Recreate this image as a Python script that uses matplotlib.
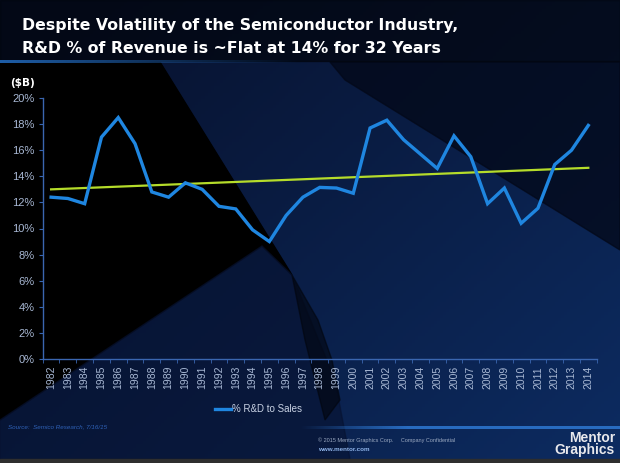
import numpy as np
import matplotlib
matplotlib.use("Agg")
import matplotlib.pyplot as plt
from matplotlib.patches import Polygon

# data
years = list(range(1982, 2015))
rd_pct = [12.4, 12.3, 11.9, 17.0, 18.5, 16.5, 12.8, 12.4, 13.5, 13.0,
          11.7, 11.5, 9.9, 9.0, 11.0, 12.4, 13.15, 13.1, 12.7, 17.7,
          18.3, 16.8, 15.7, 14.6, 17.1, 15.5, 11.9, 13.1, 10.4, 11.55,
          14.9, 16.0, 17.9]
trend_years = [1982, 2014]
trend_pct = [13.0, 14.65]
ytick_vals = [0, 2, 4, 6, 8, 10, 12, 14, 16, 18, 20]

W, H = 620, 463
fig = plt.figure(figsize=(6.2, 4.63), dpi=100)
fig.patch.set_facecolor("#050a18")

# background
bg = fig.add_axes([0, 0, 1, 1])
bg.axis("off")
xx, yy = np.meshgrid(np.linspace(0, 1, 200), np.linspace(0, 1, 150))
t = np.clip(xx * 0.6 + yy * 0.5 - 0.1, 0, 1)
c0 = np.array([0.03, 0.07, 0.18])
c1 = np.array([0.05, 0.17, 0.38])
img = c0 + (c1 - c0) * t[..., None]
bg.imshow(img, extent=[0, W, H, 0], aspect="auto", zorder=0)
# black wedge on the left
bg.add_patch(Polygon([(0, 62), (160, 62), (292, 275), (262, 246), (30, 400), (0, 420)],
                     closed=True, color="#000000", zorder=1))
# lower left navy under the wedge
bg.add_patch(Polygon([(262, 246), (30, 400), (0, 420), (0, 459), (350, 459), (335, 380),
                      (292, 275)],
                     closed=True, color="#071230", alpha=0.6, zorder=1))
# dark band upper right
bg.add_patch(Polygon([(330, 62), (620, 62), (620, 250), (345, 80)],
                     closed=True, color="#030818", alpha=0.75, zorder=1))
# dark tail in middle
bg.add_patch(Polygon([(292, 275), (318, 320), (332, 360), (340, 400), (325, 420), (305, 340)],
                     closed=True, color="#02050d", alpha=0.6, zorder=1))
# title strip
bg.add_patch(Polygon([(0, 0), (W, 0), (W, 61), (0, 61)], closed=True,
                     color="#02050d", alpha=0.7, zorder=1))
# blue rules with fading ends
fade = np.zeros((1, 300, 4))
fade[..., :3] = [0.12, 0.37, 0.66]
fade[..., 3] = np.linspace(1, 0, 300)
bg.imshow(fade, extent=[0, 300, 63.5, 60.5], aspect="auto", zorder=2)
fade2 = np.zeros((1, 320, 4))
fade2[..., :3] = [0.16, 0.42, 0.75]
fade2[..., 3] = np.clip(np.linspace(0, 3, 320), 0, 1)
bg.imshow(fade2, extent=[300, 620, 429.5, 426.5], aspect="auto", zorder=2)
bg.add_patch(Polygon([(0, 459), (W, 459), (W, H), (0, H)], closed=True,
                     color="#2e2e2e", zorder=2))
bg.set_xlim(0, W)
bg.set_ylim(H, 0)

# title
title_font = dict(color="white", fontsize=11.3, fontweight="bold",
                  family="DejaVu Sans", va="baseline")
fig.text(22 / W, 1 - 30 / H, "Despite Volatility of the Semiconductor Industry,", **title_font)
fig.text(22 / W, 1 - 53 / H, "R&D % of Revenue is ~Flat at 14% for 32 Years", **title_font)
fig.text(10 / W, 1 - 86 / H, "($B)", color="white", fontsize=7.5, fontweight="bold",
         family="DejaVu Sans")

# chart
ax = fig.add_axes([42.7 / W, 1 - 359 / H, (596.7 - 42.7) / W, (359 - 98) / H])
ax.patch.set_alpha(0)
x = np.arange(len(years))
trend_x = [years.index(y) for y in trend_years]
ax.plot(trend_x, trend_pct, color="#b5dc2a", lw=1.6, zorder=3)
ax.plot(x, rd_pct, color="#1f86e0", lw=2.4, zorder=4, label="% R&D to Sales",
        solid_joinstyle="miter")
ax.set_xlim(-0.5, len(years) - 0.5)
ax.set_ylim(0, 20)
ax.set_yticks(ytick_vals)
ax.set_yticklabels([f"{v}%" for v in ytick_vals])
ax.set_xticks(x)
ax.set_xticklabels([str(y) for y in years], rotation=90)
ax.set_xticks(np.arange(-0.5, len(years)), minor=True)
ax.tick_params(axis="x", which="major", length=0, pad=5, labelsize=7.5, colors="#a8b8d4")
ax.tick_params(axis="x", which="minor", length=3, color="#3a66b0", direction="out")
ax.tick_params(axis="y", length=3, color="#3a66b0", labelsize=8, colors="#a8b8d4", pad=3)
for lab in ax.get_xticklabels() + ax.get_yticklabels():
    lab.set_family("Liberation Sans")
for side in ["top", "right"]:
    ax.spines[side].set_visible(False)
for side in ["left", "bottom"]:
    ax.spines[side].set_color("#3a66b0")
    ax.spines[side].set_linewidth(1)

leg = ax.legend(loc="upper center", bbox_to_anchor=(0.39, -0.14), frameon=False,
                handlelength=1.6, handletextpad=0.1,
                prop={"family": "Liberation Sans", "size": 7})
for txt in leg.get_texts():
    txt.set_color("#c8d2e4")

fig.text(8 / W, 1 - 428 / H, "Source:  Semico Research, 7/16/15", color="#2f62b8",
         fontsize=4.5, style="italic", family="Liberation Sans")
fig.text(318 / W, 1 - 442 / H, "\u00a9 2015 Mentor Graphics Corp.     Company Confidential",
         color="#9aa8c0", fontsize=4.0, family="Liberation Sans")
fig.text(318 / W, 1 - 451 / H, "www.mentor.com", color="#8fb4ea", fontsize=4.5,
         fontweight="bold", family="Liberation Sans")
fig.text(615 / W, 1 - 457 / H, "Mentor\nGraphics", color="#e8e8ec", fontsize=10,
         fontweight="bold", family="Liberation Sans", ha="right", va="bottom",
         multialignment="right", linespacing=0.85)

fig.savefig("out.png", dpi=100, facecolor=fig.get_facecolor())
